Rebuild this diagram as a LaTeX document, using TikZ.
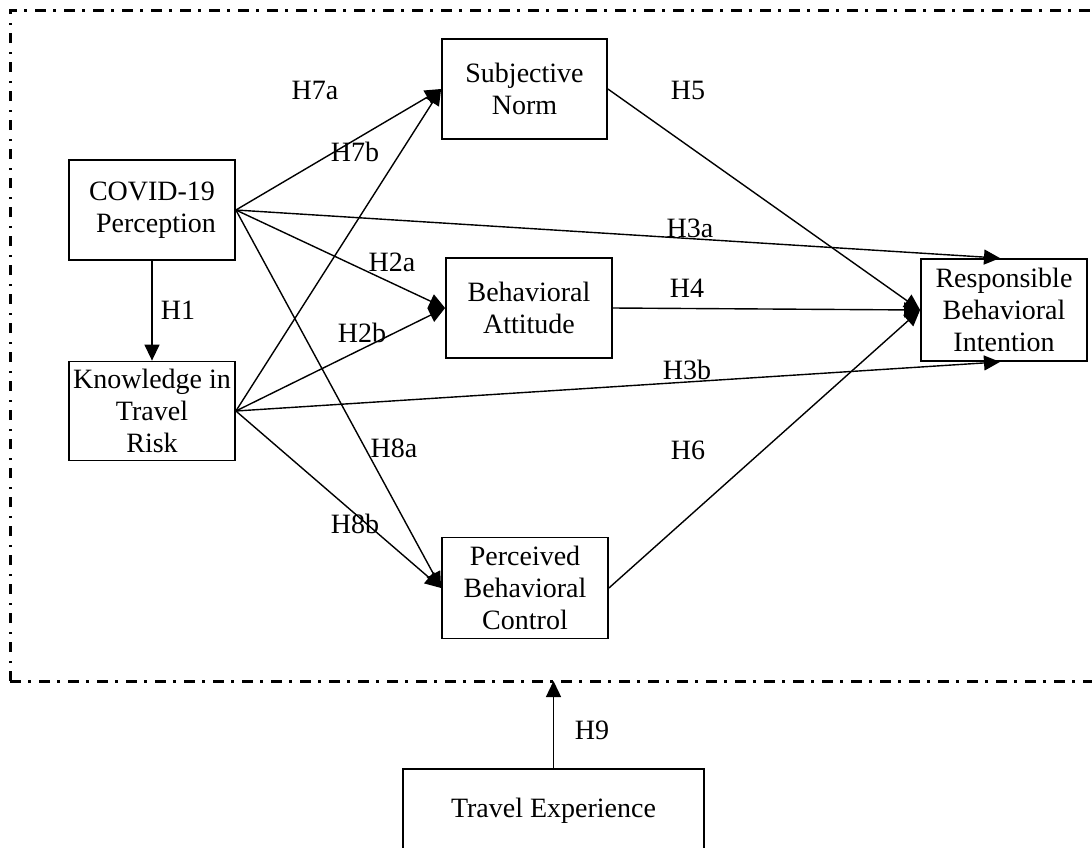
\documentclass[tikz,border=0pt]{standalone}
\usepackage{fontspec}
\setmainfont{Liberation Serif}
\usetikzlibrary{arrows.meta}
\begin{document}
\begin{tikzpicture}[x=1pt,y=-1pt,
  box/.style={draw, line width=1.8pt, minimum width=166pt, minimum height=100pt, align=center, inner sep=0pt, font=\fontsize{28}{32}\selectfont},
  lbl/.style={inner sep=0pt, font=\fontsize{28}{32}\selectfont},
  arr/.style={-{Triangle[length=16pt,width=15pt]}, line width=1.4pt},
  frame/.style={line width=3pt, dash pattern=on 10.5pt off 7.5pt on 2.5pt off 8.5pt}]
\useasboundingbox (0,0) rectangle (1092,847);
\clip (0,0) rectangle (1092,847);
\fill[white] (0,0) rectangle (1092,847);
% frame
\coordinate (fbl) at (10,681);
\coordinate (ftl) at (10,10);
\coordinate (ftr) at (1100,10);
\coordinate (fbr) at (1100,681);
\draw[frame] (fbl) -- (ftl) -- (ftr);
\draw[frame] (fbl) -- (fbr);
% boxes
\node[box] (cov) at (152,210) {COVID-19\\\hspace{8pt}Perception};
\node[box, minimum height=99pt] (ktr) at (152,411) {Knowledge in\\Travel\\Risk};
\node[box, minimum width=165pt] (sn) at (524.5,89) {Subjective\\Norm};
\node[box] (ba) at (529,308) {Behavioral\\Attitude};
\node[box, minimum height=101pt] (pbc) at (525,588) {Perceived\\Behavioral\\Control};
\node[box, minimum height=102pt] (rbi) at (1004,310) {Responsible\\Behavioral\\Intention};
\node[box, minimum width=301pt, minimum height=84pt] (te) at (553.5,811) {Travel Experience};
\coordinate (h9end) at (553.5,681);
% connectors
\draw[arr] (cov.south) -- (ktr.north);
\draw[arr] (cov.east) -- (sn.west);
\draw[arr] (ktr.east) -- (sn.west);
\draw[arr] (cov.east) -- (ba.west);
\draw[arr] (ktr.east) -- (ba.west);
\draw[arr] (cov.east) -- (pbc.west);
\draw[arr] (ktr.east) -- (pbc.west);
\draw[arr] (cov.east) -- ([xshift=-4pt]rbi.north);
\draw[arr] (ktr.east) -- ([xshift=-4pt]rbi.south);
\draw[arr] (sn.east) -- (rbi.west);
\draw[arr] (ba.east) -- (rbi.west);
\draw[arr] (pbc.east) -- (rbi.west);
\draw[arr] (te.north) -- (h9end);
% labels
\node[lbl] (l7a) at (315,90) {H7a};
\node[lbl] (l7b) at (355,152) {H7b};
\node[lbl] (l3a) at (690,228) {H3a};
\node[lbl] (l2a) at (392,262) {H2a};
\node[lbl] (l1) at (178,310) {H1};
\node[lbl] (l2b) at (362,333) {H2b};
\node[lbl] (l4) at (687,288) {H4};
\node[lbl] (l3b) at (687,370) {H3b};
\node[lbl] (l8a) at (394,448) {H8a};
\node[lbl] (l6) at (688,450) {H6};
\node[lbl] (l8b) at (355,524) {H8b};
\node[lbl] (l5) at (688,90) {H5};
\node[lbl] (l9) at (592,730) {H9};
\end{tikzpicture}
\end{document}
